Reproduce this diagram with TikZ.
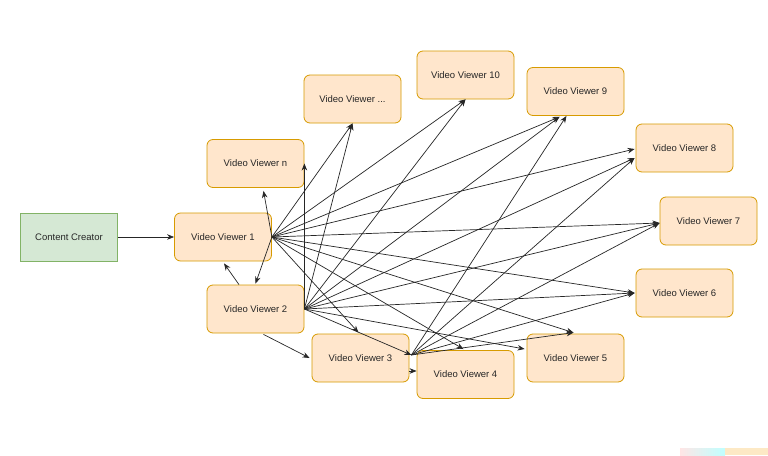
\documentclass[tikz,border=0pt]{standalone}
\usepackage{fontspec}
\setmainfont{Liberation Sans}
\usetikzlibrary{arrows.meta,calc}
\definecolor{vfill}{HTML}{FFE6CC}
\definecolor{vdraw}{HTML}{D79B00}
\definecolor{cfill}{HTML}{D5E8D4}
\definecolor{cdraw}{HTML}{82B366}
\begin{document}
\begin{tikzpicture}[x=1pt,y=-1pt,
  boxbase/.style={rectangle, line width=0.8pt, minimum width=97pt, minimum height=48pt,
    inner sep=0pt, font=\fontsize{9.5}{11}\selectfont, text=black!85},
  viewer/.style={boxbase, rounded corners=6pt, draw=vdraw, fill=vfill},
  creator/.style={boxbase, draw=cdraw, fill=cfill},
  link/.style={draw=black!85, line width=0.7pt, -{Stealth[length=7pt,width=5.5pt]}}]
\fill[white] (0,0) rectangle (768,455);
\useasboundingbox (0,0) rectangle (768,455);
% faint artifact bottom right
\shade[left color=pink!40, right color=cyan!25] (680,448) rectangle (725,455);
\fill[yellow!20!orange!20] (725,448) rectangle (768,455);

\node[creator] (cc) at (69,237) {Content Creator};
\node[viewer] (v1) at (223,237) {Video Viewer 1};
\node[viewer] (vn) at (255.5,163.5) {Video Viewer n};
\node[viewer] (v2) at (255.5,309) {Video Viewer 2};
\node[viewer] (v3) at (360.5,358) {Video Viewer 3};
\node[viewer] (v4) at (465.5,374.5) {Video Viewer 4};
\node[viewer] (v5) at (575.5,358) {Video Viewer 5};
\node[viewer] (vd) at (352.5,99) {Video Viewer ...};
\node[viewer] (v10) at (465.5,75) {Video Viewer 10};
\node[viewer] (v9) at (575.5,91.5) {Video Viewer 9};
\node[viewer] (v8) at (684.5,148) {Video Viewer 8};
\node[viewer] (v7) at (708.5,221) {Video Viewer 7};
\node[viewer] (v6) at (684.5,293) {Video Viewer 6};

\coordinate (s1) at (v1.east);
\coordinate (s2) at (v2.east);
\coordinate (s3) at ($(v3.east)+(2,-3)$);

% simple links
\draw[link] (cc) -- (v1);
\draw[link] ($(v2.north)+(-16.5,0)$) -- ($(v1.south)+(1,2)$);
\draw[link] ($(v2.south)+(8,1)$) -- ($(v3.west)+(-2,0)$);
\draw[link] (s2) -- (vn.east);
\draw[link] ($(v3.east)+(0,13)$) -- ($(v4.west)+(0,-3.5)$);

% from Video Viewer 1
\draw[link] (s1) -- ($(vn.south)+(8,3)$);
\draw[link] (s1) -- ($(v2.north)+(0,-1)$);
\draw[link] (s1) -- (vd.south);
\draw[link] (s1) -- (v10.south);
\draw[link] (s1) -- ($(v9.south)+(-16,1)$);
\draw[link] (s1) -- ($(v8.west)+(-1,1)$);
\draw[link] (s1) -- ($(v7.west)+(0,2)$);
\draw[link] (s1) -- ($(v6.west)+(-1,0)$);
\draw[link] (s1) -- ($(v5.north)+(-2,-1)$);
\draw[link] (s1) -- ($(v4.north)+(-2,-1)$);
\draw[link] (s1) -- ($(v3.north)+(-2,-1)$);

% from Video Viewer 2
\draw[link] (s2) -- (vd.south);
\draw[link] (s2) -- (v10.south);
\draw[link] (s2) -- ($(v9.south)+(-16,1)$);
\draw[link] (s2) -- ($(v8.west)+(-1,10)$);
\draw[link] (s2) -- ($(v7.west)+(0,2)$);
\draw[link] (s2) -- ($(v6.west)+(-1,0)$);
\draw[link] (s2) -- ($(v5.west)+(-2,-9)$);
\draw[link] (s2) -- (s3);

% from Video Viewer 3
\draw[link] (s3) -- ($(v9.south)+(-9,0)$);
\draw[link] (s3) -- ($(v8.west)+(-1,10)$);
\draw[link] (s3) -- ($(v7.west)+(0,2)$);
\draw[link] (s3) -- ($(v6.west)+(-1,0)$);
\draw[link] (s3) -- ($(v5.north)+(-2,-1)$);
\end{tikzpicture}
\end{document}
